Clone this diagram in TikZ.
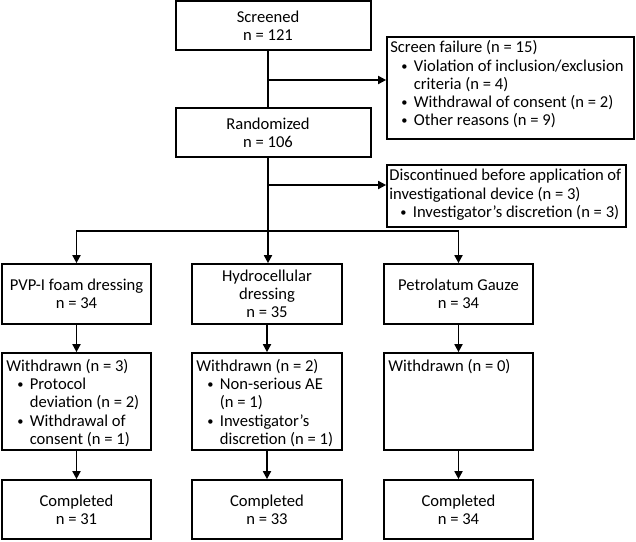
\documentclass[tikz,border=0pt]{standalone}
\usepackage{fontspec}
\setmainfont{Carlito}
\usetikzlibrary{arrows.meta}
\newcommand{\bi}{\hspace*{11pt}\makebox[12.5pt][l]{\raisebox{1pt}{\scalebox{0.75}{•}}}}
\newcommand{\ci}{\hspace*{23.5pt}}
\begin{document}
\begin{tikzpicture}[x=1pt,y=-1pt,
  every node/.style={font=\fontsize{16.6}{18.2}\selectfont},
  cbox/.style={draw, line width=1.7pt, align=center, inner sep=0pt},
  wtext/.style={anchor=north west, align=left, inner sep=0pt},
  ln/.style={line width=1.7pt},
  arr/.style={line width=1.7pt, -{Triangle[length=8pt,width=8pt]}}]
\fill[white] (0,0) rectangle (636,541);
\useasboundingbox (0,0) rectangle (636,541);

% top
\node[cbox, minimum width=195pt, minimum height=49pt] (scr) at (273.5,25.5)
  {\hspace*{-11pt}Screened\\\hspace*{-11pt}n = 121};
\node[cbox, minimum width=247pt, minimum height=102pt] (sf) at (510.5,88) {};
\node[wtext] (sft) at ([xshift=4pt,yshift=-4.5pt]sf.north west)
  {Screen failure (n = 15)\\\bi Violation of inclusion/exclusion\\\ci criteria (n = 4)\\\bi Withdrawal of consent (n = 2)\\\bi Other reasons (n = 9)};
\node[cbox, minimum width=195pt, minimum height=49pt] (rnd) at (273.5,132.5)
  {\hspace*{-11pt}Randomized\\\hspace*{-11pt}n = 106};
\node[cbox, minimum width=239pt, minimum height=62pt] (dis) at (506.5,196) {};
\node[wtext] (dist) at ([xshift=3pt,yshift=-5pt]dis.north west)
  {Discontinued before application of\\investigational device (n = 3)\\\bi Investigator’s discretion (n = 3)};

% groups
\node[cbox, minimum width=149pt, minimum height=60pt] (g1) at (76.5,294) {PVP-I foam dressing\\n = 34};
\node[cbox, minimum width=150pt, minimum height=60pt] (g2) at (267,294) {Hydrocellular\\dressing\\n = 35};
\node[cbox, minimum width=149pt, minimum height=60pt] (g3) at (458.5,294) {Petrolatum Gauze\\n = 34};

% withdrawn
\node[cbox, minimum width=149pt, minimum height=97pt] (w1) at (76.5,401.5) {};
\node[cbox, minimum width=150pt, minimum height=97pt] (w2) at (267,401.5) {};
\node[cbox, minimum width=149pt, minimum height=97pt] (w3) at (458.5,401.5) {};
\node[wtext] (w1t) at ([xshift=5pt,yshift=-7pt]w1.north west)
  {Withdrawn (n = 3)\\\bi Protocol\\\ci deviation (n = 2)\\\bi Withdrawal of\\\ci consent (n = 1)};
\node[wtext] (w2t) at ([xshift=5pt,yshift=-7pt]w2.north west)
  {Withdrawn (n = 2)\\\bi Non-serious AE\\\ci (n = 1)\\\bi Investigator’s\\\ci discretion (n = 1)};
\node[wtext] (w3t) at ([xshift=5pt,yshift=-7pt]w3.north west) {Withdrawn (n = 0)};

% completed
\node[cbox, minimum width=149pt, minimum height=59pt] (c1) at (76.5,509.5) {Completed\\n = 31};
\node[cbox, minimum width=150pt, minimum height=59pt] (c2) at (267,509.5) {Completed\\n = 33};
\node[cbox, minimum width=149pt, minimum height=59pt] (c3) at (458.5,509.5) {Completed\\n = 34};

% connectors
\coordinate (b1) at (268,80);
\coordinate (b2) at (268,185);
\coordinate (hj) at (268,231);
\draw[ln] (scr.south -| b1) -- (rnd.north -| b1);
\draw[arr] (b1) -- (b1 -| sf.west);
\draw[ln] (rnd.south -| hj) -- (hj);
\draw[arr] (b2) -- (b2 -| dis.west);
\draw[arr] (hj) -| (g1.north);
\draw[arr] (hj) -| (g3.north);
\draw[arr] (hj) -- (hj |- g2.north);
\draw[arr] (g1.south) -- (w1.north);
\draw[arr] (g2.south) -- (w2.north);
\draw[arr] (g3.south) -- (w3.north);
\draw[arr] (w1.south) -- (c1.north);
\draw[arr] (w2.south) -- (c2.north);
\draw[arr] (w3.south) -- (c3.north);
\end{tikzpicture}
\end{document}
